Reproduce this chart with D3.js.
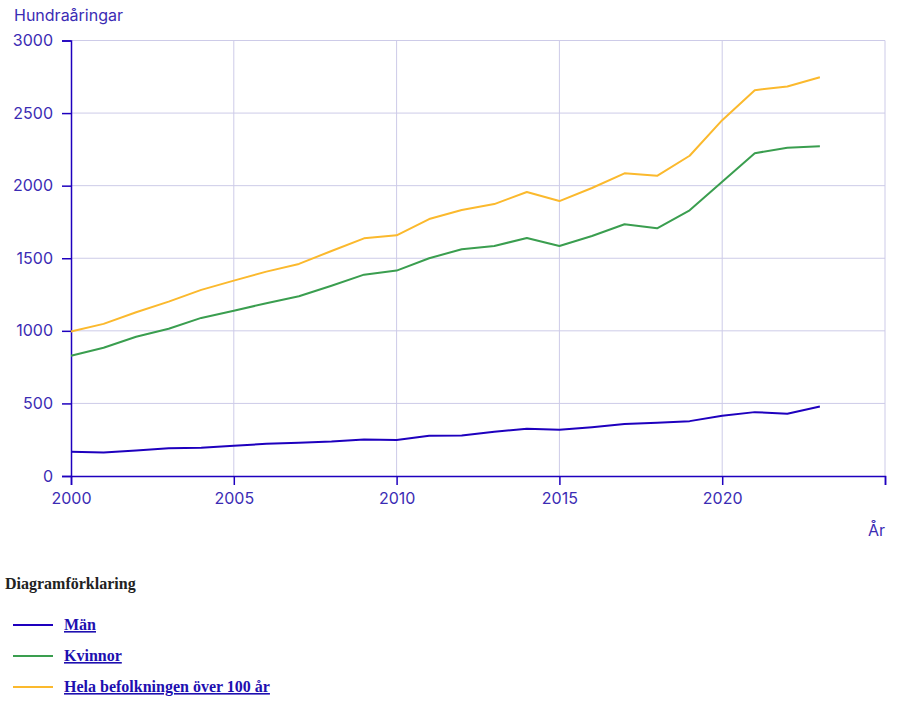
<!DOCTYPE html>
<html><head><meta charset="utf-8">
<script src="https://cdn.jsdelivr.net/npm/d3@7"></script>
<style>
body{margin:0;background:#fff;}
svg{display:block;}
</style></head>
<body>
<svg id="chart" width="902" height="703"></svg>
<script>
const years = d3.range(2000, 2024);
const man = [167,162,176,192,195,208,222,229,238,252,248,277,279,305,325,318,336,358,367,378,415,440,429,479];
const kvinnor = [828,883,959,1014,1089,1139,1190,1238,1311,1387,1415,1500,1562,1584,1640,1584,1653,1734,1706,1830,2027,2224,2261,2272];
const hela = [995,1048,1128,1201,1282,1346,1408,1461,1550,1637,1658,1770,1832,1873,1956,1894,1984,2085,2068,2206,2451,2658,2683,2747];
const seriesNames = ["Män","Kvinnor","Hela befolkningen över 100 år"];
const seriesColors = ["#1e00be","#3a9e4f","#fbb92d"];
const xTicks = [2000,2005,2010,2015,2020,2025];
const yTicks = [0,500,1000,1500,2000,2500,3000];

const svg = d3.select("#chart");
const x = d3.scaleLinear().domain([2000,2025]).range([71,885]);
const y = d3.scaleLinear().domain([0,3000]).range([476,40.5]);
const font = "Inter, 'Noto Sans', sans-serif";
const textCol = "#3b2cb4";
const axisCol = "#1e00be";
const gridCol = "#cdcbe8";

// grid
svg.append("g").selectAll("line").data(yTicks.slice(1)).join("line")
  .attr("x1",x(2000)).attr("x2",x(2025)).attr("y1",d=>y(d)).attr("y2",d=>y(d))
  .attr("stroke",gridCol).attr("stroke-width",1);
svg.append("g").selectAll("line").data(xTicks.slice(1)).join("line")
  .attr("x1",d=>x(d)).attr("x2",d=>x(d)).attr("y1",y(0)).attr("y2",y(3000))
  .attr("stroke",gridCol).attr("stroke-width",1);

// axes
const xAxis = svg.append("g").attr("transform",`translate(0,${y(0)})`)
  .call(d3.axisBottom(x).tickValues(xTicks).tickSize(9).tickPadding(8)
    .tickFormat(d=> d===2025 ? "" : d3.format("d")(d)));
const yAxis = svg.append("g").attr("transform",`translate(${x(2000)},0)`)
  .call(d3.axisLeft(y).tickValues(yTicks).tickSize(9).tickPadding(9).tickFormat(d3.format("d")));
[xAxis,yAxis].forEach(g=>{
  g.select(".domain").attr("stroke",axisCol).attr("stroke-width",1.5);
  g.selectAll(".tick line").attr("stroke",axisCol).attr("stroke-width",1.5);
  g.selectAll(".tick text").attr("fill",textCol).attr("font-family",font).attr("font-size",16);
});

// lines
const line = d3.line().x((d,i)=>x(years[i])).y(d=>y(d));
[man,kvinnor,hela].forEach((s,k)=>{
  svg.append("path").datum(s).attr("d",line).attr("fill","none")
    .attr("stroke",seriesColors[k]).attr("stroke-width",2).attr("stroke-linejoin","round");
});

// titles
svg.append("text").attr("x",14).attr("y",21).text("Hundraåringar")
  .attr("fill",textCol).attr("font-family",font).attr("font-size",16);
svg.append("text").attr("x",885).attr("y",536).attr("text-anchor","end").text("År")
  .attr("fill",textCol).attr("font-family",font).attr("font-size",16);

// legend
svg.append("text").attr("x",5).attr("y",589).text("Diagramförklaring")
  .attr("fill","#222").attr("font-family","'Liberation Serif','Times New Roman',serif")
  .attr("font-weight","bold").attr("font-size",16);
const lg = svg.append("g").selectAll("g").data(seriesNames).join("g")
  .attr("transform",(d,i)=>`translate(0,${625+i*31})`);
lg.append("line").attr("x1",13).attr("x2",53).attr("y1",0).attr("y2",0)
  .attr("stroke",(d,i)=>seriesColors[i]).attr("stroke-width",2);
lg.append("text").attr("x",64).attr("y",5).text(d=>d)
  .attr("fill","#1e0fb0").attr("font-family","'Liberation Serif','Times New Roman',serif")
  .attr("font-weight","bold").attr("font-size",16).attr("text-decoration","underline");
</script>
</body></html>
